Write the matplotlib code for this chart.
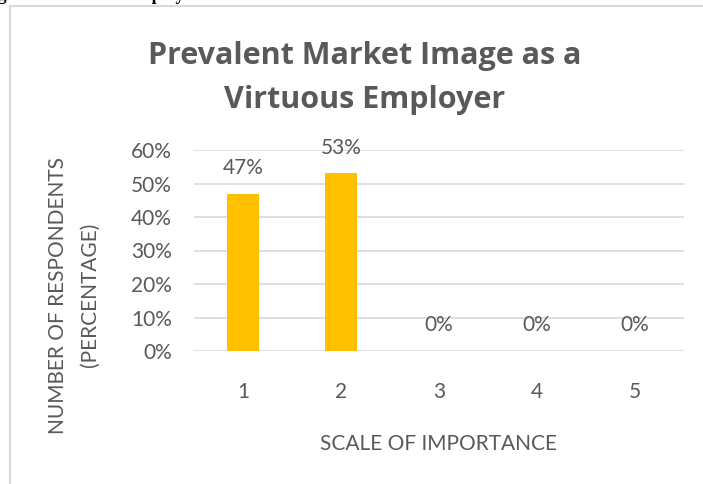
import matplotlib
matplotlib.use('Agg')
import matplotlib.pyplot as plt
from matplotlib.patches import Rectangle
from matplotlib.ticker import PercentFormatter

# 数据
categories = ['1', '2', '3', '4', '5']
values = [0.47, 0.53, 0.0, 0.0, 0.0]
labels = ['47%', '53%', '0%', '0%', '0%']

grey = '#595959'
plt.rcParams['font.family'] = ['Lato', 'DejaVu Sans']

fig = plt.figure(figsize=(7.03, 4.84), dpi=100)

# 上方被裁掉的正文标题
fig.text(200 / 703, 1.0, 'Market Image as a Virtuous Employer', fontsize=13,
         fontweight='bold', family='Liberation Serif', color='black',
         ha='right', va='baseline')

# 图表外框
fig.patches.append(Rectangle((10 / 703, -0.1), 0.99, 1.0 - 6 / 484 + 0.1,
                             transform=fig.transFigure, fill=False,
                             edgecolor='#d9d9d9', linewidth=1.5))

ax = fig.add_axes([194 / 703, 1 - 351 / 484, 490 / 703, 201 / 484])
x = range(len(categories))
ax.bar(x, values, width=0.32, color='#FFC000', zorder=3)
for i, (v, t) in enumerate(zip(values, labels)):
    ax.annotate(t, (i, v), xytext=(0, 18.5), textcoords='offset points',
                ha='center', va='center', fontsize=15, color=grey)

ax.set_xlim(-0.5, 4.5)
ax.set_ylim(0, 0.6)
ax.set_yticks([0, 0.1, 0.2, 0.3, 0.4, 0.5, 0.6])
ax.yaxis.set_major_formatter(PercentFormatter(1.0, decimals=0))
ax.set_xticks(list(x))
ax.set_xticklabels(categories)
ax.grid(axis='y', color='#d9d9d9', linewidth=1.2, zorder=0)
for s in ax.spines.values():
    s.set_visible(False)
ax.tick_params(axis='both', length=0, labelsize=15, colors=grey)
ax.tick_params(axis='x', pad=22)
ax.tick_params(axis='y', pad=16)

ax.set_xlabel('SCALE OF IMPORTANCE', fontsize=15, color=grey, labelpad=23)
fig.text(74 / 703, 1 - 295 / 484, 'NUMBER OF RESPONDENTS\n(PERCENTAGE)', rotation=90,
         ha='center', va='center', fontsize=15, color=grey, linespacing=1.75,
         multialignment='center')

fig.text(365 / 703, 1 - 78 / 484, 'Prevalent Market Image as a\nVirtuous Employer',
         ha='center', va='center', fontsize=22, fontweight='bold', color=grey,
         family='Open Sans', linespacing=1.65)

fig.savefig('out.png', dpi=100)
